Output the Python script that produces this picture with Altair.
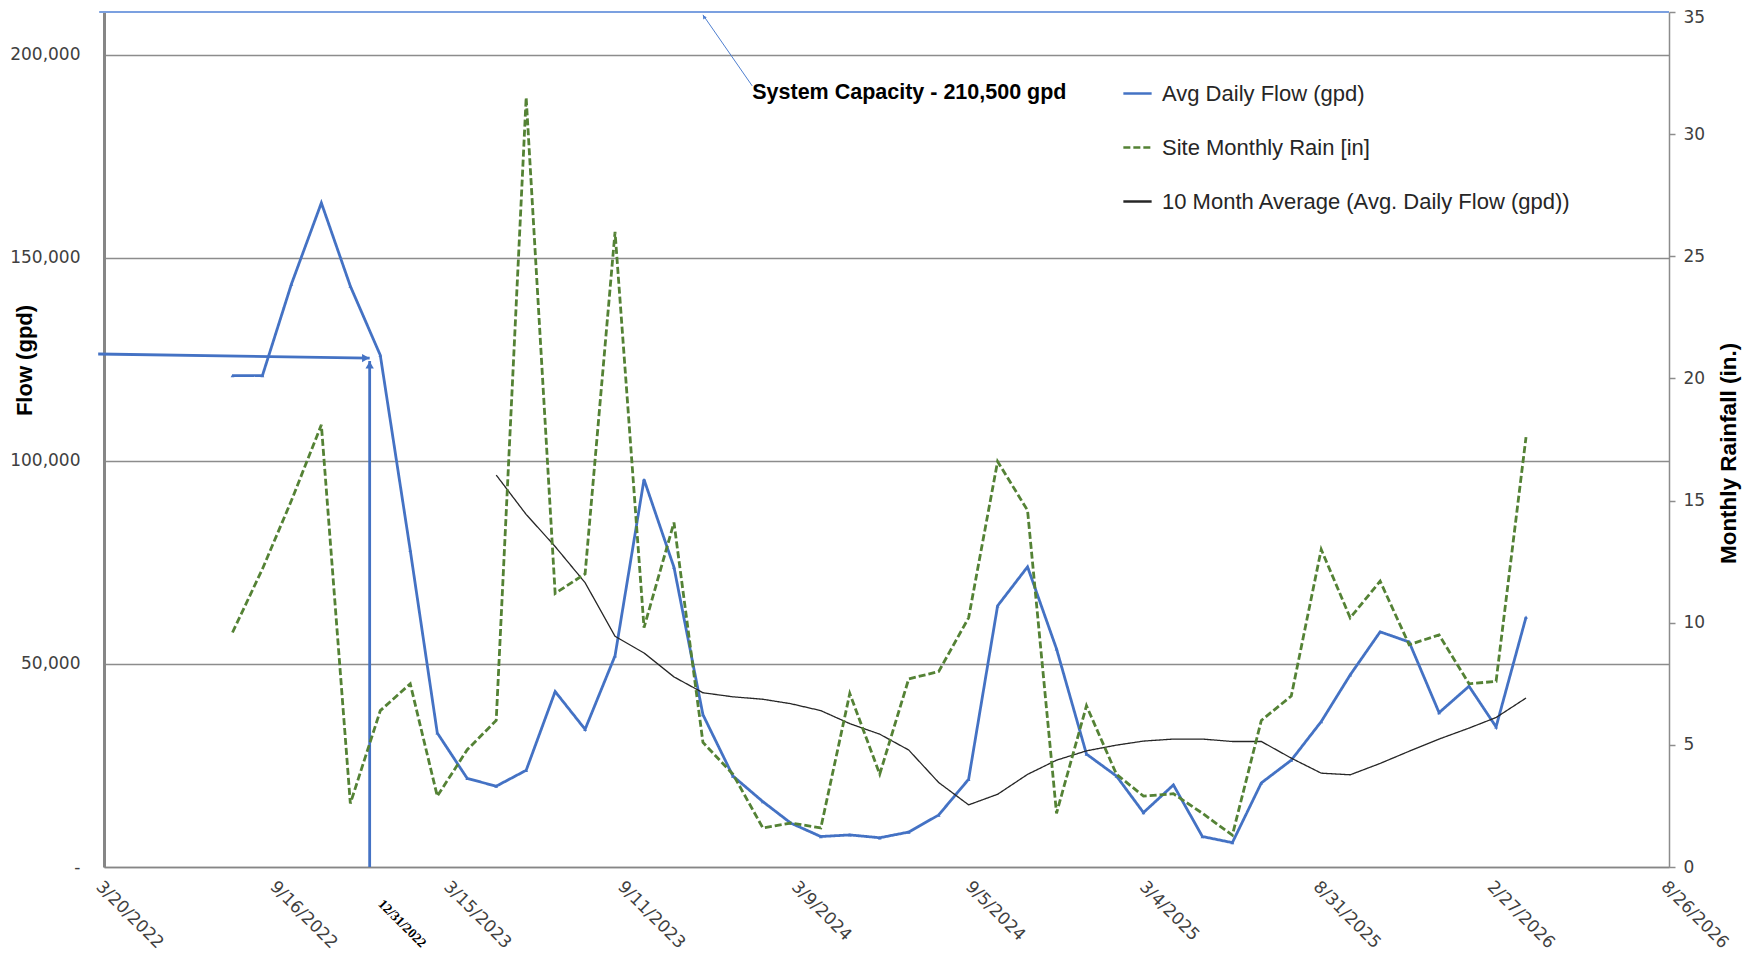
import altair as alt
import pandas as pd

# ---------------- data ----------------
months = [
    "2022-07-31", "2022-08-31", "2022-09-30", "2022-10-31", "2022-11-30", "2022-12-31",
    "2023-01-31", "2023-02-28", "2023-03-31", "2023-04-30", "2023-05-31", "2023-06-30",
    "2023-07-31", "2023-08-31", "2023-09-30", "2023-10-31", "2023-11-30", "2023-12-31",
    "2024-01-31", "2024-02-29", "2024-03-31", "2024-04-30", "2024-05-31", "2024-06-30",
    "2024-07-31", "2024-08-31", "2024-09-30", "2024-10-31", "2024-11-30", "2024-12-31",
    "2025-01-31", "2025-02-28", "2025-03-31", "2025-04-30", "2025-05-31", "2025-06-30",
    "2025-07-31", "2025-08-31", "2025-09-30", "2025-10-31", "2025-11-30", "2025-12-31",
    "2026-01-31", "2026-02-28", "2026-03-31",
]
flow_gpd = [
    121000, 121000, 143500, 163500, 143000, 126000,
    78000, 33000, 21800, 19900, 23800, 43200,
    33900, 52000, 95400, 73800, 37500, 22400,
    16100, 10800, 7500, 7900, 7200, 8600,
    12800, 21600, 64300, 73900, 53700, 27800,
    22400, 13400, 20200, 7500, 6000, 20700,
    26300, 35800, 47300, 57900, 55400, 38000,
    44500, 34500, 61500,
]
rain_in = [
    9.6, 12.2, 15.0, 18.1, 2.6, 6.4,
    7.5, 2.9, 4.8, 6.0, 31.5, 11.2,
    12.0, 26.0, 9.8, 14.1, 5.1, 3.8,
    1.6, 1.8, 1.6, 7.1, 3.8, 7.7,
    8.0, 10.2, 16.6, 14.6, 2.2, 6.6,
    3.8, 2.9, 3.0, 2.2, 1.3, 6.0,
    7.0, 13.0, 10.2, 11.7, 9.1, 9.5,
    7.5, 7.6, 17.6,
]
avg_months = [
    "2023-04-30", "2023-05-31", "2023-06-30", "2023-07-31", "2023-08-31", "2023-09-30",
    "2023-10-31", "2023-11-30", "2023-12-31", "2024-01-31", "2024-02-29", "2024-03-31",
    "2024-04-30", "2024-05-31", "2024-06-30", "2024-07-31", "2024-08-31", "2024-09-30",
    "2024-10-31", "2024-11-30", "2024-12-31", "2025-01-31", "2025-02-28", "2025-03-31",
    "2025-04-30", "2025-05-31", "2025-06-30", "2025-07-31", "2025-08-31", "2025-09-30",
    "2025-10-31", "2025-11-30", "2025-12-31", "2026-01-31", "2026-02-28", "2026-03-31",
]
avg10_gpd = [
    96500, 86800, 78900, 70000, 56800, 52700,
    46800, 42900, 41900, 41300, 40200, 38500,
    35300, 32700, 28800, 20800, 15300, 17900,
    22800, 26300, 28600, 30000, 31000, 31500,
    31500, 30900, 30900, 26800, 23100, 22700,
    25500, 28500, 31500, 34200, 36800, 41600,
]

series_names = ["Avg Daily Flow (gpd)", "Site Monthly Rain [in]",
                "10 Month Average (Avg. Daily Flow (gpd))"]

x_tick_dates = ["2022-03-20", "2022-09-16", "2023-03-15", "2023-09-11", "2024-03-09",
                "2024-09-05", "2025-03-04", "2025-08-31", "2026-02-27", "2026-08-26"]
flow_ticks = [0, 50000, 100000, 150000, 200000]
rain_ticks = [0, 5, 10, 15, 20, 25, 30, 35]

capacity_gpd = 210500
capacity_label = "System Capacity - 210,500 gpd"
date_label = "12/31/2022"
date_label_date = "2022-12-31"
marker_date = "2022-12-20"
marker_flow = 125300
hline_start_date = "2022-03-14"
hline_start_flow = 126300
cap_line_start = "2022-03-15"
cap_arrow_tail = ("2024-01-20", 192300)
cap_arrow_head = ("2023-11-30", 209800)
cap_text_pos = ("2024-01-20", 190600)

# ---------------- styling ----------------
BLUE = "#4472C4"
GREEN = "#548235"
BLACK = "#262626"
GRID = "#8c8c8c"
LABEL = "#404040"


def dt(s):
    y, m, d = (int(v) for v in s.split("-"))
    return alt.DateTime(year=y, month=m, date=d)


def ts(s):
    return pd.Timestamp(s)


flow_df = pd.DataFrame({"date": pd.to_datetime(months), "value": flow_gpd,
                        "series": series_names[0]})
rain_df = pd.DataFrame({"date": pd.to_datetime(months), "value": rain_in,
                        "series": series_names[1]})
avg_df = pd.DataFrame({"date": pd.to_datetime(avg_months), "value": avg10_gpd,
                       "series": series_names[2]})

x_scale = alt.Scale(domain=[dt(x_tick_dates[0]), dt(x_tick_dates[-1])])
x_axis = alt.Axis(values=[dt(s) for s in x_tick_dates], format="%-m/%-d/%Y",
                  labelAngle=45, labelAlign="left", labelBaseline="top",
                  labelPadding=11, ticks=False, grid=False,
                  domainColor="#868686", domainWidth=1.5,
                  labelFont="DejaVu Sans", labelFontSize=17, labelColor=LABEL,
                  labelOverlap=False, labelFlush=False, title=None)

flow_scale = alt.Scale(domain=[0, capacity_gpd], nice=False)
flow_axis = alt.Axis(orient="left", values=flow_ticks,
                     labelExpr="datum.value == 0 ? '-\u00a0\u00a0' : format(datum.value, ',')",
                     grid=True, gridColor=GRID, gridWidth=1.5,
                     domainColor="#868686", domainWidth=3, ticks=False,
                     labelPadding=24, labelFont="DejaVu Sans", labelFontSize=17,
                     labelColor=LABEL,
                     title="Flow (gpd)", titleFont="Liberation Sans", titleFontSize=22,
                     titleFontWeight="bold", titleColor="#000000", titleAngle=270,
                     titleX=-80, titleY=348, titleAlign="center", titleBaseline="middle")
rain_scale = alt.Scale(domain=[0, 35], nice=False)
rain_axis = alt.Axis(orient="right", values=rain_ticks, grid=False,
                     domainColor=GRID, domainWidth=1.5, ticks=True, tickSize=6,
                     tickColor=GRID, tickWidth=1.5, labelPadding=8,
                     labelOffset={"condition": {"test": "datum.value == 35", "value": 5},
                                  "value": 0},
                     labelFont="DejaVu Sans", labelFontSize=17, labelColor=LABEL,
                     title="Monthly Rainfall (in.)", titleFont="Liberation Sans",
                     titleFontSize=22.5, titleFontWeight="bold", titleColor="#000000",
                     titleAngle=270, titleX=59, titleY=441, titleAlign="center",
                     titleBaseline="middle")

legend = alt.Legend(title=None, orient="none", legendX=1018, legendY=66,
                    symbolType="stroke", symbolSize=800, symbolStrokeWidth=2.6,
                    labelFont="Liberation Sans",
                    labelFontSize=22, labelColor=BLACK, rowPadding=27, labelOffset=9,
                    padding=0, labelLimit=0)
color = alt.Color("series:N", scale=alt.Scale(domain=series_names,
                                              range=[BLUE, GREEN, BLACK]), legend=legend)
dash = alt.StrokeDash("series:N", scale=alt.Scale(domain=series_names,
                                                  range=[[1, 0], [7, 3], [1, 0]]),
                      legend=legend)

X = alt.X("date:T", scale=x_scale, axis=x_axis)
Yf = alt.Y("value:Q", scale=flow_scale, axis=flow_axis)
Yr = alt.Y("value:Q", scale=rain_scale, axis=rain_axis)

flow_line = alt.Chart(flow_df).mark_line(strokeWidth=2.8, strokeJoin="miter").encode(
    x=X, y=Yf, color=color, strokeDash=dash)
flow_pts = alt.Chart(flow_df).mark_point(shape="triangle-up", filled=True, size=14,
                                         opacity=1, color=BLUE).encode(x=X, y=Yf)
avg_line = alt.Chart(avg_df).mark_line(strokeWidth=1.3).encode(
    x=X, y=Yf, color=color, strokeDash=dash)

# annotations (in data coordinates of the flow axis)
cap_df = pd.DataFrame({"x": [ts(cap_line_start)], "x2": [ts(x_tick_dates[-1])],
                       "y": [capacity_gpd]})
cap_line = alt.Chart(cap_df).mark_rule(color="#7ba0e0", strokeWidth=1.8).encode(
    x=alt.X("x:T", scale=x_scale), x2="x2:T", y=alt.Y("y:Q", scale=flow_scale))

harrow_df = pd.DataFrame({"x": [ts(hline_start_date)], "x2": [ts(marker_date)],
                          "y": [hline_start_flow], "y2": [marker_flow]})
harrow = alt.Chart(harrow_df).mark_rule(color=BLUE, strokeWidth=2.8).encode(
    x=alt.X("x:T", scale=x_scale), x2="x2:T", y=alt.Y("y:Q", scale=flow_scale), y2="y2:Q")
harrow_head = alt.Chart(harrow_df).mark_point(shape="triangle-right", filled=True,
                                              size=70, opacity=1, color=BLUE,
                                              xOffset=-4).encode(
    x=alt.X("x2:T", scale=x_scale), y=alt.Y("y2:Q", scale=flow_scale))

varrow_df = pd.DataFrame({"x": [ts(marker_date)], "y": [0], "y2": [marker_flow - 700]})
varrow = alt.Chart(varrow_df).mark_rule(color=BLUE, strokeWidth=2.8).encode(
    x=alt.X("x:T", scale=x_scale), y=alt.Y("y:Q", scale=flow_scale), y2="y2:Q")
varrow_head = alt.Chart(varrow_df).mark_point(shape="triangle-up", filled=True, size=70,
                                              opacity=1, color=BLUE, yOffset=4).encode(
    x=alt.X("x:T", scale=x_scale), y=alt.Y("y2:Q", scale=flow_scale))

carrow_df = pd.DataFrame({"x": [ts(cap_arrow_tail[0])], "y": [cap_arrow_tail[1]],
                          "x2": [ts(cap_arrow_head[0])], "y2": [cap_arrow_head[1]]})
carrow = alt.Chart(carrow_df).mark_rule(color="#4f7fd0", strokeWidth=1).encode(
    x=alt.X("x:T", scale=x_scale), y=alt.Y("y:Q", scale=flow_scale), x2="x2:T", y2="y2:Q")
carrow_head = alt.Chart(carrow_df).mark_point(shape="triangle-up", filled=True, size=18,
                                              opacity=1, color="#4f7fd0", angle=325,
                                              xOffset=1, yOffset=2).encode(
    x=alt.X("x2:T", scale=x_scale), y=alt.Y("y2:Q", scale=flow_scale))

ctext_df = pd.DataFrame({"x": [ts(cap_text_pos[0])], "y": [cap_text_pos[1]],
                         "label": [capacity_label]})
ctext = alt.Chart(ctext_df).mark_text(align="left", baseline="middle",
                                      font="Liberation Sans", fontSize=21.5,
                                      fontWeight="bold", color="#000000").encode(
    x=alt.X("x:T", scale=x_scale), y=alt.Y("y:Q", scale=flow_scale), text="label:N")

dlabel_df = pd.DataFrame({"x": [ts(date_label_date)], "label": [date_label]})
dlabel = alt.Chart(dlabel_df).mark_text(align="left", baseline="top", angle=45,
                                        font="Liberation Sans Narrow", fontSize=13.5,
                                        fontWeight="bold", color="#000000", dx=7).encode(
    x=alt.X("x:T", scale=x_scale), y=alt.value(880), text="label:N")

left = alt.layer(flow_line, flow_pts, avg_line, cap_line, harrow, harrow_head,
                 varrow, varrow_head, carrow, carrow_head, ctext, dlabel)

rain_line = alt.Chart(rain_df).mark_line(strokeWidth=2.8, strokeCap="butt").encode(
    x=X, y=Yr, color=color, strokeDash=dash)

chart = alt.layer(left, rain_line).resolve_scale(y="independent").properties(
    width=1565, height=855,
    autosize=alt.AutoSizeParams(type="none"),
    padding={"left": 96, "top": 4, "right": 77, "bottom": 85},
    background="white",
).configure_view(stroke=None)

chart.save("out.html", embed_options={"renderer": "svg", "actions": False})
